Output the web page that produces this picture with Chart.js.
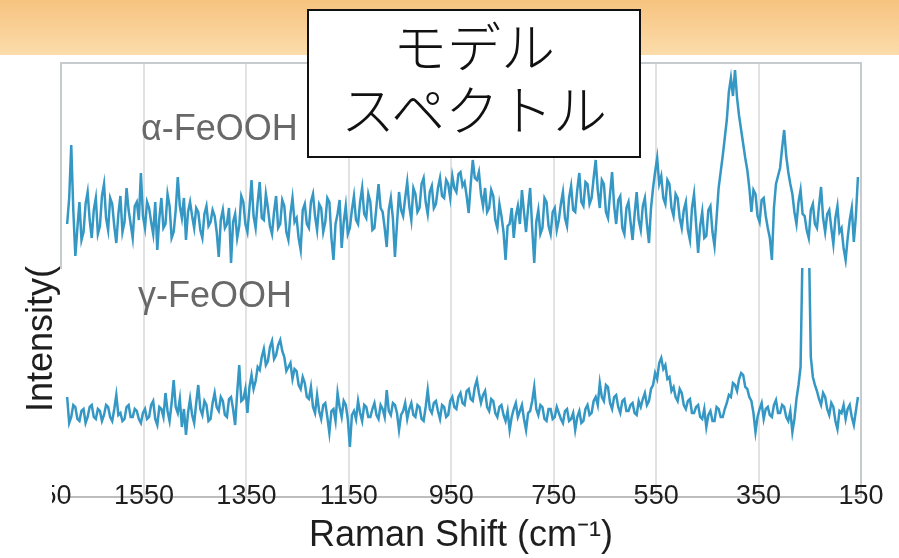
<!DOCTYPE html>
<html lang="ja">
<head>
<meta charset="utf-8">
<title>モデルスペクトル</title>
<script src="https://cdn.jsdelivr.net/npm/chart.js@4.4.1/dist/chart.umd.min.js"></script>
<style>
  html, body { margin: 0; padding: 0; background: #fff; }
  #wrap { position: relative; width: 899px; height: 558px; overflow: hidden; background: #fff; }
  #band { position: absolute; left: 0; top: 0; width: 899px; height: 55px; background: linear-gradient(#f6c37f, #fcdcab); }
  #chart { position: absolute; left: 0; top: 0; }
  .tag { position: absolute; font-family: 'Liberation Sans', Arial, sans-serif; font-size: 36px; line-height: 36px; color: #686868; white-space: nowrap; }
  #ylabel { position: absolute; left: 40px; top: 339px; transform: translate(-50%, -50%) rotate(-90deg);
            font-family: 'Liberation Sans', Arial, sans-serif; font-size: 36px; line-height: 36px; color: #1e1e1e; white-space: nowrap; }
  #model { position: absolute; left: 307px; top: 9px; width: 334px; height: 149px; box-sizing: border-box;
           border: 2px solid #111; background: #fff; text-align: center; padding-top: 2px;
           font-family: 'Noto Sans CJK JP', sans-serif; font-weight: 300; font-size: 54px; line-height: 63px; color: #111; }
  #cover { position: absolute; left: 0; top: 478px; width: 52px; height: 34px; background: #fff; }
</style>
</head>
<body>
<div id="wrap">
  <div id="band"></div>
  <canvas id="chart" width="899" height="558"></canvas>
  <div class="tag" style="left:141px; top:110px;">α-FeOOH</div>
  <div class="tag" style="left:138px; top:277px;">γ-FeOOH</div>
  <div id="ylabel">Intensity(</div>
  <div id="model">モデル<br>スペクトル</div>
  <div id="cover"></div>
</div>
<script>
// Raman shift (cm-1), shared by both spectra
var shifts = [
  1700,1696,1692,1688,1684,1680,1676,1672,1668,1664,1660,1656,1652,1648,1644,1640,1636,1632,1628,1624,
  1620,1616,1612,1608,1604,1600,1596,1592,1588,1584,1580,1576,1572,1568,1564,1560,1556,1552,1548,1544,
  1540,1536,1532,1528,1524,1520,1516,1512,1508,1504,1500,1496,1492,1488,1484,1480,1476,1472,1468,1464,
  1460,1456,1452,1448,1444,1440,1436,1432,1428,1424,1420,1416,1412,1408,1404,1400,1396,1392,1388,1384,
  1380,1376,1372,1368,1364,1360,1356,1352,1348,1344,1340,1336,1332,1328,1324,1320,1316,1312,1308,1304,
  1300,1296,1292,1288,1284,1280,1276,1272,1268,1264,1260,1256,1252,1248,1244,1240,1236,1232,1228,1224,
  1220,1216,1212,1208,1204,1200,1196,1192,1188,1184,1180,1176,1172,1168,1164,1160,1156,1152,1148,1144,
  1140,1136,1132,1128,1124,1120,1116,1112,1108,1104,1100,1096,1092,1088,1084,1080,1076,1072,1068,1064,
  1060,1056,1052,1048,1044,1040,1036,1032,1028,1024,1020,1016,1012,1008,1004,1000,996,992,988,984,
  980,976,972,968,964,960,956,952,948,944,940,936,932,928,924,920,916,912,908,904,
  900,896,892,888,884,880,876,872,868,864,860,856,852,848,844,840,836,832,828,824,
  820,816,812,808,804,800,796,792,788,784,780,776,772,768,764,760,756,752,748,744,
  740,736,732,728,724,720,716,712,708,704,700,696,692,688,684,680,676,672,668,664,
  660,656,652,648,644,640,636,632,628,624,620,616,612,608,604,600,596,592,588,584,
  580,576,572,568,564,560,556,552,548,544,540,536,532,528,524,520,516,512,508,504,
  500,496,492,488,484,480,476,472,468,464,460,456,452,448,444,440,436,432,428,424,
  420,416,412,408,404,400,396,392,388,384,380,376,372,368,364,360,356,352,348,344,
  340,336,332,328,324,320,316,312,308,304,300,296,292,288,284,280,276,272,268,264,
  260,256,252,248,244,240,236,232,228,224,220,216,212,208,204,200,196,192,188,184,
  180,176,172,168,164,160,156
];

// α-FeOOH intensity (upper panel, arbitrary units)
var alphaFeOOH = [
  44,70,123,58,12,40,66,28,36,64,76,48,30,58,70,34,42,72,84,50,
  38,70,64,42,25,54,72,36,46,80,58,44,30,62,66,48,95,52,40,66,
  60,46,34,66,18,50,70,40,44,74,62,30,36,58,91,62,50,70,28,56,
  66,52,40,60,56,38,30,54,62,42,46,58,52,36,11,48,58,40,44,60,
  5,46,54,30,42,72,66,44,36,60,88,52,40,66,86,50,48,74,60,42,
  34,56,72,40,44,68,62,36,28,54,70,46,50,30,18,58,64,44,40,66,
  74,52,38,64,60,36,46,70,66,30,8,44,54,68,20,46,62,34,40,58,
  72,48,44,66,80,54,50,74,66,38,40,62,84,60,56,40,21,58,70,50,
  11,44,76,58,52,70,86,62,48,80,74,56,60,84,90,66,54,76,82,60,
  64,80,90,72,70,88,84,70,92,80,76,94,96,82,86,72,55,84,108,90,
  88,96,74,62,80,56,60,78,72,48,40,64,52,36,8,42,44,60,30,52,
  62,44,78,56,36,60,80,40,5,46,58,34,40,70,66,42,34,56,60,38,
  48,64,76,50,42,70,82,58,56,78,95,66,62,86,84,64,70,90,108,78,
  60,88,84,56,50,74,96,62,44,68,72,40,34,60,66,46,28,54,76,48,
  38,62,70,44,25,60,80,96,110,84,92,70,64,88,84,60,52,74,70,50,
  40,58,66,38,28,60,74,44,15,42,56,30,32,58,62,36,22,50,80,96,
  112,130,148,176,190,172,198,170,152,138,124,110,98,80,56,78,74,52,46,68,
  70,52,40,30,8,60,84,92,100,120,138,112,96,84,74,56,44,66,78,54,
  52,38,30,58,64,44,40,62,81,50,36,54,58,40,24,50,62,36,40,20,
  8,30,48,60,26,52,91
];

// γ-FeOOH intensity (lower panel, arbitrary units)
var gammaFeOOH = [
  100,74,80,92,90,78,76,86,88,74,80,90,92,80,78,88,86,76,82,92,
  90,80,76,88,102,82,84,76,78,90,92,80,80,88,86,78,74,84,88,78,
  80,92,96,78,72,90,88,80,104,86,76,94,117,90,84,98,70,88,62,84,
  98,82,74,94,112,88,82,96,92,76,78,94,104,90,86,100,96,82,80,98,
  100,88,72,104,132,96,98,108,84,110,122,108,116,130,127,140,148,132,136,150,
  156,138,142,152,157,146,140,126,130,134,118,128,126,112,108,120,114,100,98,110,
  90,84,102,86,78,92,94,80,64,86,88,76,104,90,80,96,92,78,50,82,
  86,78,96,84,76,92,90,80,80,88,94,82,78,92,88,80,107,86,82,94,
  92,84,67,82,86,94,78,88,94,82,80,92,90,78,76,90,107,88,84,94,
  96,86,78,92,90,80,82,96,100,90,88,100,104,94,92,106,108,98,96,110,
  117,104,94,102,106,90,86,98,96,84,80,90,92,82,76,86,67,80,88,94,
  80,86,92,78,67,84,86,96,110,88,82,92,90,78,76,88,88,78,80,90,
  84,78,74,86,88,76,78,84,67,80,86,74,76,88,92,82,84,96,100,92,
  114,100,96,112,110,94,88,100,102,90,84,96,98,86,86,92,94,84,82,96,
  90,98,104,92,96,108,112,124,118,134,139,128,132,118,120,106,110,100,96,108,
  104,92,88,96,98,84,84,90,92,80,78,88,70,82,86,76,76,90,88,80,
  80,88,94,102,100,114,112,106,118,124,122,110,108,100,96,84,65,80,88,94,
  78,88,90,82,80,92,97,84,84,92,90,80,76,86,65,78,98,112,130,250,
  260,290,265,140,120,112,106,98,92,104,100,88,82,94,90,76,68,86,84,92,
  78,88,92,80,72,86,100
];

var xTicks = [1750, 1550, 1350, 1150, 950, 750, 550, 350, 150];

var LINE = '#3597c3';
var GRID = '#e2e2e2';
var FRAME = '#c6cbce';
var TICK_FONT = "'Liberation Sans', Arial, sans-serif";

function toPoints(values) {
  return shifts.map(function(s, i) { return { x: s, y: values[i] }; });
}

var ctx = document.getElementById('chart').getContext('2d');
new Chart(ctx, {
  type: 'line',
  data: {
    datasets: [
      {
        label: 'γ-FeOOH',
        data: toPoints(gammaFeOOH),
        yAxisID: 'yLow',
        borderColor: LINE,
        borderWidth: 2.5,
        pointRadius: 0,
        tension: 0,
        fill: false
      },
      {
        label: 'α-FeOOH',
        data: toPoints(alphaFeOOH),
        yAxisID: 'yHigh',
        borderColor: LINE,
        borderWidth: 2.5,
        pointRadius: 0,
        tension: 0,
        fill: false
      }
    ]
  },
  options: {
    responsive: false,
    animation: false,
    layout: { padding: { left: 61, right: 38, top: 63, bottom: 0 } },
    plugins: { legend: { display: false }, tooltip: { enabled: false } },
    scales: {
      x: {
        type: 'linear',
        position: 'bottom',
        reverse: true,
        min: 150,
        max: 1712,
        afterBuildTicks: function(scale) {
          scale.ticks = xTicks.map(function(v) { return { value: v }; });
        },
        afterFit: function(scale) { scale.height = 61; },
        ticks: {
          autoSkip: false,
          maxRotation: 0,
          mirror: true,
          padding: -16,
          color: '#1e1e1e',
          font: { family: TICK_FONT, size: 27 },
          callback: function(v) { return String(v); }
        },
        grid: {
          drawTicks: false,
          lineWidth: 2,
          color: function(c) {
            if (c.tick && c.tick.value === 1750) return 'rgba(0,0,0,0)';
            if (c.tick && c.tick.value === 150) return FRAME;
            return GRID;
          }
        },
        border: { display: true, color: '#bdbdbd', width: 2 },
        title: {
          display: true,
          text: 'Raman Shift (cm⁻¹)',
          color: '#1e1e1e',
          padding: 0,
          font: { family: "'Liberation Sans', Arial, sans-serif", size: 36 }
        }
      },
      xTop: {
        type: 'linear',
        position: 'top',
        reverse: true,
        min: 150,
        max: 1712,
        ticks: { display: false },
        grid: { display: false, drawTicks: false },
        border: { display: true, color: FRAME, width: 2 }
      },
      yLow: {
        type: 'linear',
        position: 'left',
        stack: 'spectra',
        stackWeight: 229,
        min: 0,
        max: 229,
        ticks: { display: false },
        grid: { display: false, drawTicks: false },
        border: { display: false }
      },
      yHigh: {
        type: 'linear',
        position: 'left',
        stack: 'spectra',
        stackWeight: 205,
        min: 0,
        max: 205,
        ticks: { display: false },
        grid: { display: false, drawTicks: false },
        border: { display: true, color: FRAME, width: 2 }
      }
    }
  }
});
</script>
</body>
</html>
